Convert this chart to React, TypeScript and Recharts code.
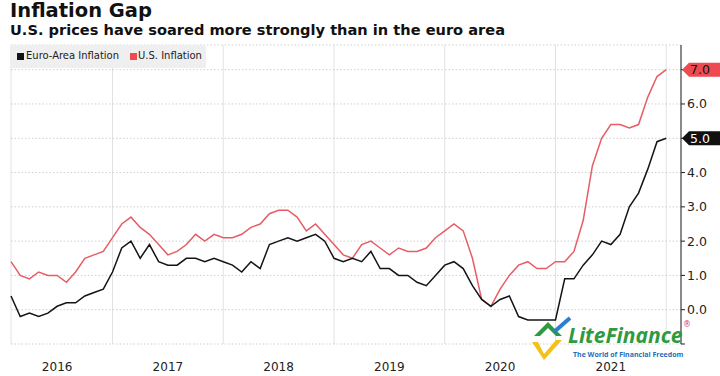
import React from 'react';
import {
  LineChart,
  Line,
  XAxis,
  YAxis,
  CartesianGrid,
  ReferenceDot,
} from 'recharts';

// monthly yoy %, Jan 2016 .. Dec 2021
const euroArea = [
  0.4, -0.2, -0.1, -0.2, -0.1, 0.1, 0.2, 0.2, 0.4, 0.5, 0.6, 1.1,
  1.8, 2.0, 1.5, 1.9, 1.4, 1.3, 1.3, 1.5, 1.5, 1.4, 1.5, 1.4,
  1.3, 1.1, 1.4, 1.2, 1.9, 2.0, 2.1, 2.0, 2.1, 2.2, 2.0, 1.5,
  1.4, 1.5, 1.4, 1.7, 1.2, 1.2, 1.0, 1.0, 0.8, 0.7, 1.0, 1.3,
  1.4, 1.2, 0.7, 0.3, 0.1, 0.3, 0.4, -0.2, -0.3, -0.3, -0.3, -0.3,
  0.9, 0.9, 1.3, 1.6, 2.0, 1.9, 2.2, 3.0, 3.4, 4.1, 4.9, 5.0,
];

const usInflation = [
  1.4, 1.0, 0.9, 1.1, 1.0, 1.0, 0.8, 1.1, 1.5, 1.6, 1.7, 2.1,
  2.5, 2.7, 2.4, 2.2, 1.9, 1.6, 1.7, 1.9, 2.2, 2.0, 2.2, 2.1,
  2.1, 2.2, 2.4, 2.5, 2.8, 2.9, 2.9, 2.7, 2.3, 2.5, 2.2, 1.9,
  1.6, 1.5, 1.9, 2.0, 1.8, 1.6, 1.8, 1.7, 1.7, 1.8, 2.1, 2.3,
  2.5, 2.3, 1.5, 0.3, 0.1, 0.6, 1.0, 1.3, 1.4, 1.2, 1.2, 1.4,
  1.4, 1.7, 2.6, 4.2, 5.0, 5.4, 5.4, 5.3, 5.4, 6.2, 6.8, 7.0,
];

const years = ['2016', '2017', '2018', '2019', '2020', '2021'];
const yTicks = [-1, 0, 1, 2, 3, 4, 5, 6, 7];

const FONT = '"DejaVu Sans", Verdana, sans-serif';
const RED = '#e65d65';
const BLACK = '#141414';

const data = euroArea.map((eu, i) => ({ i, eu, us: usInflation[i] }));
const lastIdx = data.length - 1;
const xMax = 72.6;
const yearTicks = years.map((_, k) => k * 12 + 5);
const decTicks = years.map((_, k) => k * 12 + 11);
const lastEu = euroArea[lastIdx];
const lastUs = usInflation[lastIdx];

const badge = (fill: string, color: string, text: string) => (props: any) => {
  const { cx, cy } = props;
  const x = cx + 1;
  return (
    <g>
      <polygon
        points={`${x},${cy} ${x + 7},${cy - 7} ${x + 38},${cy - 7} ${x + 38},${cy + 7} ${x + 7},${cy + 7}`}
        fill={fill}
      />
      <text x={x + 8} y={cy + 4.5} fontSize={12.5} fontFamily={FONT} fill={color}>
        {text}
      </text>
    </g>
  );
};

export default function App() {
  return (
    <div style={{ position: 'absolute', left: 0, top: 0, width: 720, height: 376, background: '#fff', overflow: 'hidden' }}>
      <div style={{ position: 'absolute', left: 10, top: -1, fontFamily: FONT, fontWeight: 'bold', fontSize: 19.5, color: '#111', whiteSpace: 'nowrap' }}>
        Inflation Gap
      </div>
      <div style={{ position: 'absolute', left: 10, top: 21, fontFamily: FONT, fontWeight: 'bold', fontSize: 14.6, color: '#111', whiteSpace: 'nowrap' }}>
        U.S. prices have soared more strongly than in the euro area
      </div>

      <LineChart width={720} height={376} data={data} margin={{ top: 45, right: 0, bottom: 0, left: 11 }}>
        <CartesianGrid xAxisId="grid" horizontal={false} stroke="#e2e2e2" />
        <CartesianGrid vertical={false} stroke="#cfcfcf" strokeDasharray="1.5 2" />
        <XAxis xAxisId="grid" dataKey="i" type="number" domain={[0, xMax]} ticks={decTicks} hide />
        <XAxis
          dataKey="i"
          type="number"
          domain={[0, xMax]}
          ticks={yearTicks}
          tickFormatter={(v: number) => years[Math.round((v - 5) / 12)]}
          axisLine={false}
          tickLine={false}
          tickMargin={12}
          height={32}
          tick={{ fontSize: 12, fill: '#222', fontFamily: FONT }}
        />
        <YAxis
          orientation="right"
          type="number"
          domain={[-1, 7.72]}
          ticks={yTicks}
          width={39}
          tickSize={4}
          tickMargin={2}
          axisLine={{ stroke: '#222' }}
          tickLine={{ stroke: '#222' }}
          tickFormatter={(v: number) => (v < 0 || v === lastEu || v === lastUs ? '' : v.toFixed(1))}
          tick={{ fontSize: 12.5, fill: '#222', fontFamily: FONT, textAnchor: 'start' }}
        />
        <Line dataKey="us" stroke={RED} strokeWidth={1.5} dot={false} isAnimationActive={false} />
        <Line dataKey="eu" stroke={BLACK} strokeWidth={1.5} dot={false} isAnimationActive={false} />
        <ReferenceDot x={xMax} y={lastUs} ifOverflow="visible" shape={badge('#ee4a51', '#111', lastUs.toFixed(1))} />
        <ReferenceDot x={xMax} y={lastEu} ifOverflow="visible" shape={badge('#111', '#fff', lastEu.toFixed(1))} />
      </LineChart>

      <div style={{ position: 'absolute', left: 10, top: 45, width: 196, height: 23, background: '#efefef', fontFamily: '"DejaVu Sans Condensed", "DejaVu Sans", sans-serif', fontStretch: 'condensed', fontSize: 11.1, color: '#222', whiteSpace: 'nowrap' }}>
        <span style={{ position: 'absolute', left: 7, top: 8, width: 7, height: 7, background: BLACK }} />
        <span style={{ position: 'absolute', left: 16, top: 4 }}>Euro-Area Inflation</span>
        <span style={{ position: 'absolute', left: 120, top: 8, width: 7, height: 7, background: '#ee4a51' }} />
        <span style={{ position: 'absolute', left: 128, top: 4 }}>U.S. Inflation</span>
      </div>

      <svg style={{ position: 'absolute', left: 526, top: 314 }} width={50} height={50}>
        <polygon points="8,22 22,8 36,22 30,22 22,14 14,22" fill="#2f9a3f" />
        <polygon points="6,28 18,46 36,26 30,26 18,40 12,28" fill="#f2c21b" />
        <line x1={28} y1={18} x2={44} y2={4} stroke="#2a7fd0" strokeWidth={4} />
      </svg>
      <div style={{ position: 'absolute', left: 568, top: 322, fontFamily: '"Open Sans", sans-serif', fontStyle: 'italic', fontWeight: 'bold', fontSize: 21, color: '#2f9a3f', whiteSpace: 'nowrap', lineHeight: '26px' }}>
        LiteFinance
      </div>
      <div style={{ position: 'absolute', left: 573, top: 350, fontFamily: '"Open Sans", sans-serif', fontWeight: 'bold', fontSize: 7, color: '#1f6fb8', whiteSpace: 'nowrap' }}>
        The World of Financial Freedom
      </div>
      <div style={{ position: 'absolute', left: 683, top: 320, fontFamily: FONT, fontSize: 8, lineHeight: '9px', color: '#d9434b' }}>®</div>
    </div>
  );
}
